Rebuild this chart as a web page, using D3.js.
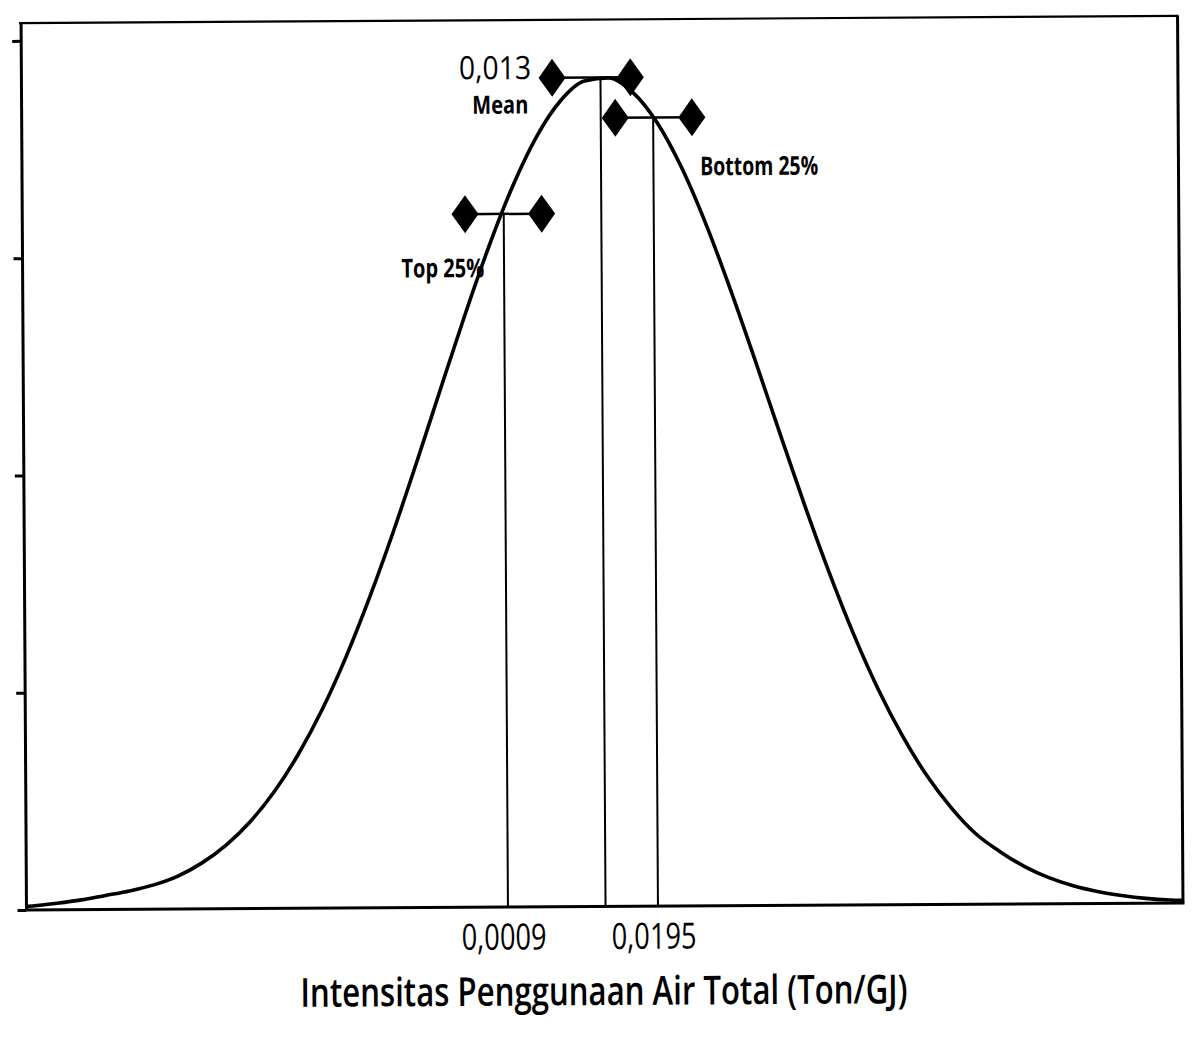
<!DOCTYPE html>
<html><head><meta charset="utf-8">
<script src="https://cdn.jsdelivr.net/npm/d3@7"></script>
<style>
body{margin:0;background:#fff}
svg{display:block;background:#fff}
text{font-family:"Open Sans","DejaVu Sans",sans-serif;fill:#000}
</style>
</head><body>
<svg id="chart" width="1195" height="1048"></svg>
<script>
// ---- data ----
const curveX = [-0.0588,-0.058,-0.055,-0.052,-0.049,-0.046,-0.043,-0.040,-0.037,-0.034,-0.031,-0.028,-0.025,-0.022,-0.019,-0.016,-0.013,-0.010,-0.007,-0.004,-0.001,0.002,0.005,0.008,0.011,0.014,0.017,0.020,0.023,0.026,0.029,0.032,0.035,0.038,0.041,0.044,0.047,0.050,0.053,0.056,0.059,0.062,0.065,0.068,0.071,0.074,0.077,0.080,0.083,0.0846];
const curveDensity = [0.016,0.018,0.030,0.045,0.065,0.085,0.112,0.152,0.212,0.293,0.400,0.537,0.708,0.913,1.155,1.431,1.734,2.059,2.394,2.725,3.037,3.315,3.543,3.708,3.799,3.813,3.746,3.605,3.397,3.134,2.831,2.505,2.170,1.840,1.529,1.243,0.990,0.773,0.590,0.442,0.323,0.240,0.172,0.120,0.082,0.055,0.036,0.022,0.014,0.012];

const refNames = ["Top 25%", "Mean", "Bottom 25%"];
const refValues = [0.0009, 0.013, 0.0195];
const bracketLow = [-0.0039, 0.0070, 0.0148];
const bracketHigh = [0.0056, 0.0167, 0.0243];
const bracketLevel = [3.19, 3.815, 3.629];

const meanValueLabel = "0,013";
const xTickValues = [0.0009, 0.0195];
const xTickLabels = ["0,0009", "0,0195"];
const yTickValues = [0, 1, 2, 3, 4];
const xDomain = [-0.0588, 0.0846];
const yDomain = [0, 4.082];
const xTitle = "Intensitas Penggunaan Air Total (Ton/GJ)";

// ---- layout ----
const L = 24, R = 1180.5, T = 19.5, B = 906.5;
const svg = d3.select("#chart");
const g = svg.append("g").attr("transform", "rotate(-0.35,600,500)");

const x = d3.scaleLinear().domain(xDomain).range([L, R]);
const y = d3.scaleLinear().domain(yDomain).range([B, T]);

// frame
g.append("line").attr("x1", L - 2).attr("x2", R + 1).attr("y1", T).attr("y2", T)
  .attr("stroke", "#000").attr("stroke-width", 2.2);
g.append("line").attr("x1", L).attr("x2", L).attr("y1", T).attr("y2", B)
  .attr("stroke", "#000").attr("stroke-width", 3);
g.append("line").attr("x1", R).attr("x2", R).attr("y1", T).attr("y2", B)
  .attr("stroke", "#000").attr("stroke-width", 3);
g.append("line").attr("x1", L).attr("x2", R + 1.5).attr("y1", B).attr("y2", B)
  .attr("stroke", "#000").attr("stroke-width", 3);

// y ticks (no labels)
const yAxis = g.append("g").attr("transform", `translate(${L},0)`)
  .call(d3.axisLeft(y).tickValues(yTickValues).tickSize(9).tickFormat(""));
yAxis.select(".domain").remove();
yAxis.selectAll(".tick line").attr("stroke", "#000").attr("stroke-width", 3);

// distribution curve
g.append("path")
  .datum(curveX.map((v, i) => [v, curveDensity[i]]))
  .attr("fill", "none").attr("stroke", "#000").attr("stroke-width", 3.6)
  .attr("stroke-linejoin", "round")
  .attr("d", d3.line().x(d => x(d[0])).y(d => y(d[1])).curve(d3.curveMonotoneX));

// reference vertical lines
g.selectAll(".ref").data(refValues).join("line")
  .attr("x1", d => x(d)).attr("x2", d => x(d))
  .attr("y1", y(0)).attr("y2", (d, i) => y(bracketLevel[i]))
  .attr("stroke", "#000").attr("stroke-width", 2);

// brackets with diamonds
const diamond = "M0,-19L13.5,0L0,19L-13.5,0Z";
refValues.forEach((v, i) => {
  const yy = y(bracketLevel[i]);
  g.append("line").attr("x1", x(bracketLow[i])).attr("x2", x(bracketHigh[i]))
    .attr("y1", yy).attr("y2", yy).attr("stroke", "#000").attr("stroke-width", 2.5);
  [bracketLow[i], bracketHigh[i]].forEach(b => {
    g.append("path").attr("d", diamond).attr("fill", "#000")
      .attr("transform", `translate(${x(b)},${yy})`);
  });
});

// annotation labels
const yMean = y(bracketLevel[1]);
g.append("text").attr("x", x(bracketLow[1]) - 21).attr("y", yMean + 1)
  .attr("text-anchor", "end").attr("font-size", 32)
  .attr("textLength", 72).attr("lengthAdjust", "spacingAndGlyphs")
  .text(meanValueLabel);
g.append("text").attr("x", x(bracketLow[1]) - 24).attr("y", yMean + 35.5)
  .attr("text-anchor", "end").attr("font-size", 25).attr("font-weight", "bold")
  .attr("textLength", 56).attr("lengthAdjust", "spacingAndGlyphs")
  .text(refNames[1]);
g.append("text").attr("x", x(bracketLow[0]) + 19).attr("y", y(bracketLevel[0]) + 63)
  .attr("text-anchor", "end").attr("font-size", 26).attr("font-weight", "bold")
  .attr("textLength", 83).attr("lengthAdjust", "spacingAndGlyphs")
  .text(refNames[0]);
g.append("text").attr("x", x(bracketHigh[2]) + 8).attr("y", y(bracketLevel[2]) + 58)
  .attr("text-anchor", "start").attr("font-size", 26).attr("font-weight", "bold")
  .attr("textLength", 118).attr("lengthAdjust", "spacingAndGlyphs")
  .text(refNames[2]);

// x tick labels
xTickValues.forEach((v, i) => {
  g.append("text").attr("x", x(v) - 4).attr("y", 949)
    .attr("text-anchor", "middle").attr("font-size", 36)
    .attr("textLength", 85).attr("lengthAdjust", "spacingAndGlyphs")
    .text(xTickLabels[i]);
});

// axis title
g.append("text").attr("x", 601).attr("y", 1005)
  .attr("text-anchor", "middle").attr("font-size", 40).attr("font-weight", 600)
  .attr("textLength", 607).attr("lengthAdjust", "spacingAndGlyphs")
  .text(xTitle);
</script>
</body></html>
